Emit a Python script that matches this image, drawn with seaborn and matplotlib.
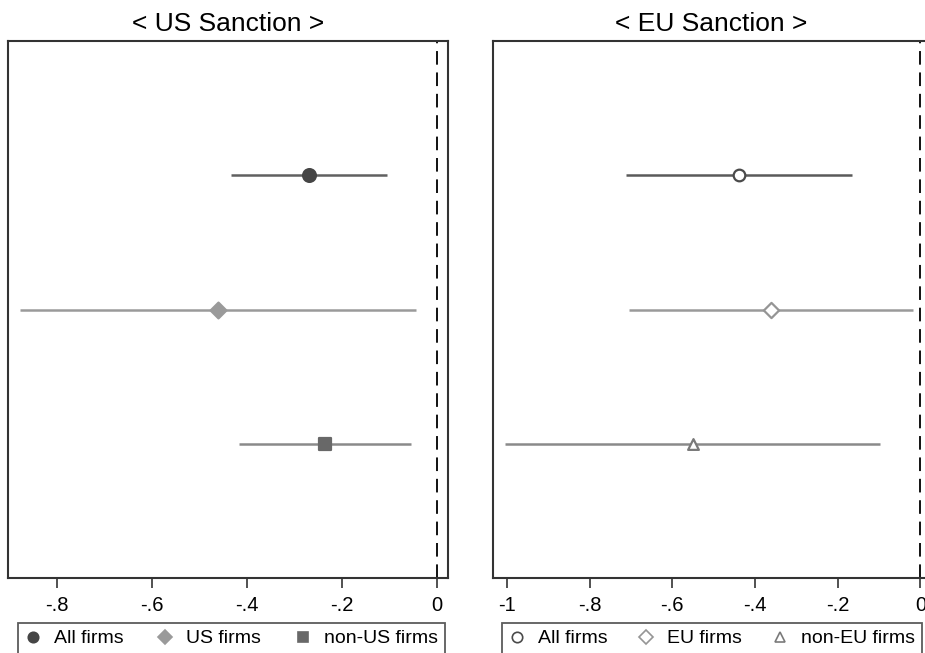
import matplotlib
matplotlib.use("Agg")
import matplotlib.pyplot as plt
import seaborn as sns
import pandas as pd

# Estimativas e intervalos
us_grupos = ["All firms", "US firms", "non-US firms"]
us_coef = [-0.27, -0.461, -0.236]
us_low = [-0.434, -0.878, -0.417]
us_high = [-0.105, -0.044, -0.055]

eu_grupos = ["All firms", "EU firms", "non-EU firms"]
eu_coef = [-0.438, -0.361, -0.55]
eu_low = [-0.712, -0.705, -1.005]
eu_high = [-0.165, -0.017, -0.097]

linha_pos = [1, 2, 3]

us_ticks = [-0.8, -0.6, -0.4, -0.2, 0]
us_ticklabels = ["-.8", "-.6", "-.4", "-.2", "0"]
eu_ticks = [-1, -0.8, -0.6, -0.4, -0.2, 0]
eu_ticklabels = ["-1", "-.8", "-.6", "-.4", "-.2", "0"]

sns.set_theme(style="white")
plt.rcParams["font.family"] = ["Liberation Sans", "DejaVu Sans"]
plt.rcParams["text.color"] = "black"
plt.rcParams["xtick.color"] = "black"

fig = plt.figure(figsize=(9.25, 6.53), dpi=100)
W, H = 925, 653


def eixo(x0, x1, y0, y1):
    return fig.add_axes([x0 / W, 1 - y1 / H, (x1 - x0) / W, (y1 - y0) / H])


ax1 = eixo(8, 448, 41, 578)
ax2 = eixo(493, 929, 41, 578)

estilos_us = [
    dict(marker="o", face="#454545", edge="#454545", line="#606060", s=85),
    dict(marker="D", face="#9a9a9a", edge="#9a9a9a", line="#9a9a9a", s=65),
    dict(marker="s", face="#686868", edge="#686868", line="#8a8a8a", s=75),
]
estilos_eu = [
    dict(marker="o", face="none", edge="#4a4a4a", line="#5a5a5a", s=70),
    dict(marker="D", face="none", edge="#959595", line="#9a9a9a", s=60),
    dict(marker="^", face="none", edge="#7a7a7a", line="#8a8a8a", s=60),
]


def painel(ax, grupos, coef, low, high, estilos, titulo, xlim, ticks, ticklabels):
    df = pd.DataFrame({"grupo": grupos, "coef": coef, "low": low,
                       "high": high, "y": linha_pos})
    ax.axvline(0, color="#111111", lw=1.4, ls=(0, (7, 4)), zorder=1)
    handles = []
    for i, row in df.iterrows():
        st = estilos[i]
        ax.hlines(row["y"], row["low"], row["high"], color=st["line"], lw=1.8, zorder=2)
        sns.scatterplot(x=[row["coef"]], y=[row["y"]], ax=ax, marker=st["marker"],
                        s=st["s"], color=st["face"] if st["face"] != "none" else "white",
                        edgecolor=st["edge"], linewidth=1.6, zorder=3, legend=False)
        h = plt.Line2D([], [], ls="", marker=st["marker"], markersize=7.5,
                       markerfacecolor=st["face"], markeredgecolor=st["edge"],
                       markeredgewidth=1.2)
        handles.append(h)
    ax.set_ylim(4, 0)
    ax.set_xlim(*xlim)
    ax.set_yticks([])
    ax.set_xticks(ticks)
    ax.set_xticklabels(ticklabels, fontsize=14.5)
    ax.tick_params(axis="x", bottom=True, length=7, width=1.2, color="#333333",
                   pad=6, direction="out", labelcolor="black")
    ax.set_xlabel("")
    ax.set_ylabel("")
    for sp in ax.spines.values():
        sp.set_color("#333333")
        sp.set_linewidth(1.5)
    ax.set_title(titulo, fontsize=19, pad=7, color="black")
    return handles


h1 = painel(ax1, us_grupos, us_coef, us_low, us_high, estilos_us, "< US Sanction >",
            (-0.903, 0.023), us_ticks, us_ticklabels)
h2 = painel(ax2, eu_grupos, eu_coef, eu_low, eu_high, estilos_eu, "< EU Sanction >",
            (-1.034, 0.021), eu_ticks, eu_ticklabels)


def legenda(handles, labels, x0, x1):
    leg = fig.legend(handles, labels, loc="upper left",
                     bbox_to_anchor=(x0 / W, 1 - 623 / H, (x1 - x0) / W, 0),
                     mode="expand", ncol=3, fontsize=14, frameon=True,
                     fancybox=False, handletextpad=0.7, columnspacing=1.2,
                     borderpad=0.35, handlelength=0.8, borderaxespad=0,
                     labelcolor="black")
    leg.get_frame().set_edgecolor("#333333")
    leg.get_frame().set_linewidth(1.3)


legenda(h1, us_grupos, 18, 445)
legenda(h2, eu_grupos, 502, 922)

plt.savefig("out.png", dpi=100)
